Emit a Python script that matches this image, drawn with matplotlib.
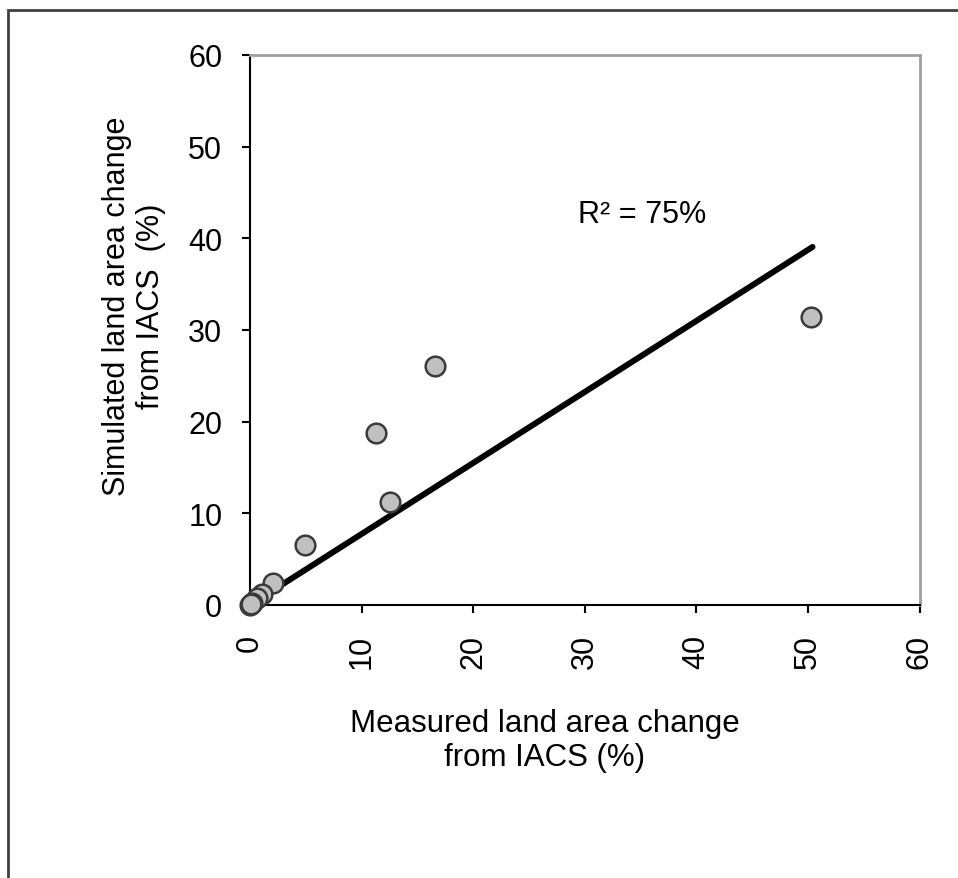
import numpy as np
import matplotlib.pyplot as plt
from matplotlib.patches import Rectangle

plt.rcParams['font.family'] = ['Liberation Sans', 'DejaVu Sans']

# measured vs simulated land area change (%)
measured = [50.3, 16.6, 11.3, 12.5, 4.9, 2.1, 1.1, 0.6, 0.2, 0.0, 0.1]
simulated = [31.4, 26.1, 18.8, 11.2, 6.5, 2.4, 1.2, 0.8, 0.2, 0.0, 0.1]

# fitted line end points
fit_x = [0.0, 50.4]
fit_slope = 0.775

ticks = [0, 10, 20, 30, 40, 50, 60]

fig = plt.figure(figsize=(9.58, 8.79), dpi=100)
ax = fig.add_axes([0.261, 0.3106, 0.699, 0.6257])

# outer frame of the chart area
fig.patches.append(Rectangle((8 / 958, -0.05), 1.2, 1 - 11 / 879 + 0.05,
                             transform=fig.transFigure, fill=False,
                             edgecolor='#404040', linewidth=2))

fx = np.array(fit_x)
ax.plot(fx, fit_slope * fx, color='black', linewidth=4.3, solid_capstyle='round', zorder=2)
ax.scatter(measured, simulated, s=200, facecolor='#c0c0c0', edgecolor='#3a3a3a',
           linewidth=1.8, zorder=3, clip_on=False)

ax.text(35.1, 42.6, 'R² = 75%', fontsize=22, ha='center', va='center')

ax.set_xlim(0, 60)
ax.set_ylim(0, 60)
ax.set_xticks(ticks)
ax.set_yticks(ticks)
ax.tick_params(axis='both', direction='out', length=6, width=1.5, labelsize=22)
ax.tick_params(axis='y', pad=14)
ax.tick_params(axis='x', labelrotation=90, pad=15)

for s in ['left', 'bottom']:
    ax.spines[s].set_color('black')
    ax.spines[s].set_linewidth(1.5)
for s in ['top', 'right']:
    ax.spines[s].set_color('#a0a0a0')
    ax.spines[s].set_linewidth(2)

ax.set_xlabel('Measured land area change\nfrom IACS (%)', fontsize=22.5)
ax.set_ylabel('Simulated land area change\nfrom IACS  (%)', fontsize=22)
ax.xaxis.set_label_coords(0.44, -0.187)
ax.yaxis.set_label_coords(-0.125, 0.545)

fig.savefig('out.png', dpi=100)
